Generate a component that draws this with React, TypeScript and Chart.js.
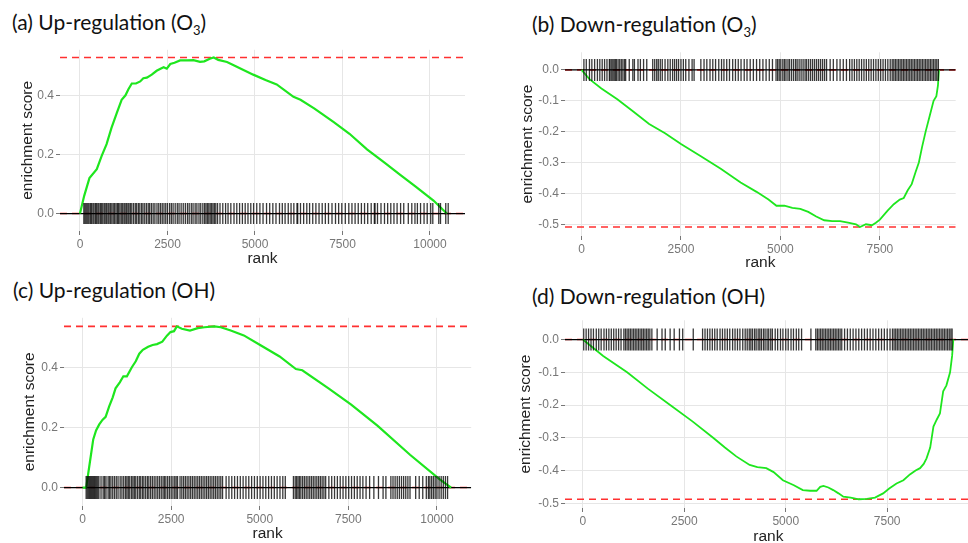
import React, { useEffect, useRef } from "react";
import { Chart, registerables } from "chart.js";

Chart.register(...registerables);

// ---------- data: running enrichment score curves ----------
const rankA = [0, 120, 270, 480, 620, 760, 900, 1050, 1190, 1300, 1380, 1480, 1600, 1720, 1810, 1910, 2050, 2190, 2300, 2390, 2480, 2580, 2700, 2860, 3050, 3240, 3430, 3550, 3710, 3820, 3950, 4200, 4480, 4950, 5300, 5620, 6100, 6300, 6700, 7240, 7700, 8200, 8700, 9150, 9600, 10100, 10480];
const esA = [0, 0.06, 0.12, 0.15, 0.195, 0.235, 0.29, 0.34, 0.385, 0.4, 0.42, 0.44, 0.44, 0.447, 0.458, 0.46, 0.47, 0.483, 0.49, 0.495, 0.49, 0.506, 0.51, 0.518, 0.518, 0.519, 0.513, 0.515, 0.524, 0.528, 0.52, 0.513, 0.497, 0.47, 0.452, 0.437, 0.395, 0.385, 0.355, 0.31, 0.27, 0.217, 0.172, 0.131, 0.09, 0.044, 0];

const rankB = [0, 200, 500, 900, 1300, 1700, 2100, 2500, 3000, 3500, 4000, 4400, 4700, 4900, 5100, 5300, 5500, 5700, 5900, 6100, 6300, 6500, 6700, 6900, 7000, 7150, 7300, 7400, 7500, 7700, 7850, 8000, 8100, 8200, 8300, 8400, 8480, 8560, 8650, 8750, 8850, 8920, 8960, 8985];
const esB = [0, -0.03, -0.06, -0.095, -0.135, -0.175, -0.205, -0.24, -0.28, -0.32, -0.365, -0.395, -0.42, -0.44, -0.44, -0.447, -0.45, -0.46, -0.475, -0.487, -0.49, -0.49, -0.495, -0.5, -0.509, -0.5, -0.503, -0.495, -0.485, -0.455, -0.435, -0.42, -0.415, -0.39, -0.37, -0.33, -0.3, -0.25, -0.2, -0.15, -0.1, -0.085, -0.05, 0];

const rankC = [0, 100, 200, 300, 380, 470, 560, 650, 750, 850, 930, 1050, 1150, 1250, 1390, 1500, 1600, 1700, 1850, 1975, 2100, 2250, 2380, 2480, 2580, 2660, 2800, 3030, 3250, 3440, 3720, 3900, 4180, 4550, 5010, 5560, 6020, 6200, 6940, 7580, 8320, 9240, 10070, 10400];
const esC = [0, 0, 0.08, 0.16, 0.19, 0.21, 0.225, 0.235, 0.27, 0.3, 0.33, 0.35, 0.37, 0.37, 0.4, 0.42, 0.445, 0.458, 0.468, 0.474, 0.477, 0.485, 0.505, 0.517, 0.52, 0.536, 0.528, 0.522, 0.53, 0.533, 0.536, 0.533, 0.522, 0.506, 0.474, 0.436, 0.394, 0.39, 0.33, 0.276, 0.206, 0.109, 0.028, 0];

const rankD = [0, 500, 1090, 1600, 2150, 2700, 3210, 3500, 3780, 4110, 4300, 4520, 4700, 4930, 5200, 5420, 5600, 5760, 5850, 5930, 6050, 6170, 6300, 6420, 6600, 6800, 7000, 7200, 7400, 7550, 7730, 7900, 8060, 8200, 8310, 8400, 8470, 8560, 8640, 8720, 8800, 8880, 8960, 9050, 9100, 9130];
const esD = [0, -0.05, -0.1, -0.15, -0.2, -0.25, -0.3, -0.33, -0.357, -0.383, -0.39, -0.393, -0.405, -0.43, -0.445, -0.46, -0.462, -0.462, -0.45, -0.447, -0.452, -0.46, -0.47, -0.48, -0.483, -0.488, -0.487, -0.483, -0.47, -0.455, -0.44, -0.43, -0.412, -0.4, -0.393, -0.38, -0.363, -0.33, -0.266, -0.245, -0.226, -0.158, -0.14, -0.1, -0.05, 0];

// ---------- data: gene-set hit positions (rug) ----------
const rugA = [110, 140, 170, 200, 230, 260, 300, 330, 370, 400, 440, 470, 510, 540, 580, 610, 650, 690, 720, 760, 800, 830, 870, 910, 950, 990,
  1030, 1070, 1100, 1140, 1180, 1220, 1260, 1290, 1330, 1370, 1400, 1440, 1480, 1530, 1580, 1620, 1670, 1710, 1760, 1800, 1850, 1900, 1950, 1990,
  2040, 2090, 2140, 2200, 2250, 2300, 2350, 2400, 2450, 2500, 2560, 2610, 2660, 2720, 2780, 2830, 2890, 2950,
  3010, 3070, 3120, 3180, 3230, 3290, 3340, 3400, 3450, 3510, 3560, 3600, 3640, 3680, 3720, 3760, 3800, 3840, 3880, 3930,
  4000, 4080, 4160, 4230, 4310, 4400, 4480, 4560, 4640, 4720, 4800, 4880, 4960,
  5050, 5140, 5230, 5330, 5420, 5510, 5600, 5700, 5780, 5860, 5950,
  6030, 6110, 6200, 6220, 6300, 6390, 6480, 6560, 6650, 6740, 6830, 6920,
  7010, 7100, 7200, 7300, 7390, 7480, 7580, 7680, 7770, 7860, 7950,
  8040, 8130, 8220, 8320, 8410, 8430, 8500, 8600, 8700, 8790, 8880, 8970,
  9060, 9160, 9250, 9380, 9480, 9570, 9640, 9730, 9830, 9920,
  10020, 10080, 10250, 10300, 10450, 10520];

const rugB = [60, 120, 200, 260, 330, 400, 460, 520, 580, 640, 700, 720, 760, 790, 820, 850, 880, 920, 960, 1000, 1040, 1080, 1110,
  1200, 1290, 1330, 1420, 1480, 1560, 1640,
  1790, 1840, 1890, 1930, 1980, 2030, 2100, 2170, 2230, 2290, 2340, 2390, 2440, 2500, 2560, 2620, 2700, 2780, 2830,
  3000, 3080, 3150, 3230, 3300, 3370, 3450, 3520, 3580, 3650, 3720, 3800, 3870, 3940, 4010, 4090, 4160, 4240, 4320, 4400, 4480, 4560, 4640, 4720, 4800,
  4890, 4930, 4970, 5010, 5060, 5100, 5140, 5190, 5230, 5280, 5330, 5380, 5420, 5470, 5520, 5570, 5620, 5660, 5710, 5760, 5810, 5860, 5910, 5960, 6010, 6060, 6110, 6160,
  6250, 6330, 6420, 6500, 6580, 6660, 6740, 6800,
  6860, 6920, 6980, 7040, 7100, 7160, 7220, 7280, 7340, 7400, 7460, 7520, 7580, 7640, 7700, 7760, 7810,
  7850, 7890, 7930, 7970, 8010, 8050, 8090, 8130, 8170, 8210, 8250, 8290, 8330, 8370, 8410, 8450, 8490, 8530, 8570, 8610, 8650, 8690, 8730, 8770, 8810, 8850, 8890, 8930, 8970];

const rugC = [100, 130, 160, 190, 220, 250, 280, 310, 340, 370, 400, 430, 460,
  520, 580, 620, 660, 720, 760, 800, 850, 900, 950, 1000, 1060, 1110, 1160,
  1210, 1250, 1290, 1330, 1380, 1420, 1460, 1500, 1550, 1600, 1640, 1690, 1730, 1780, 1830, 1870, 1920, 1970, 2020, 2070, 2120, 2170, 2220, 2270, 2310, 2350, 2400, 2450, 2500, 2550, 2600, 2640, 2680,
  2750, 2800, 2850, 2900, 2950, 3000, 3050, 3100, 3150, 3200, 3250, 3300, 3350, 3400, 3450, 3500, 3550, 3600, 3650, 3700, 3750, 3800, 3850, 3900, 3950,
  4050, 4130, 4210, 4290, 4370, 4450, 4530, 4610, 4690, 4770, 4850, 4930, 5010, 5090, 5170, 5250, 5330, 5410, 5490, 5570, 5650, 5720,
  5950, 6000, 6040, 6080, 6120, 6160, 6210, 6260, 6310, 6360, 6410, 6460, 6510, 6560, 6610, 6660, 6710, 6760, 6810, 6860,
  6950, 7030, 7110, 7190, 7270, 7350, 7430, 7510, 7590, 7670, 7750, 7830, 7910,
  8000, 8100, 8220, 8350, 8480, 8560,
  8700, 8760, 8820, 8880, 8940, 9000, 9060, 9120, 9180, 9240,
  9400, 9500, 9600, 9700, 9760, 9800, 9850, 9900, 9950, 10000, 10060, 10120, 10180, 10240, 10300];

const rugD = [20, 80, 140, 200, 260, 330, 390, 450, 520, 580, 640, 700, 760, 820, 880, 940,
  1010, 1050, 1090, 1130, 1170, 1210, 1250, 1290, 1330, 1370, 1410, 1450, 1490, 1530, 1570, 1610, 1650, 1700,
  1830, 1950, 2030, 2150, 2250, 2380, 2460,
  2720, 2950, 3010, 3070, 3130, 3190, 3250, 3310, 3380, 3440, 3500, 3560, 3620, 3690, 3750, 3810, 3870, 3940, 4000,
  4050, 4100, 4140, 4180, 4230, 4270, 4320, 4360, 4400, 4450, 4490, 4540, 4580, 4630, 4670,
  4740, 4800, 4870, 4930, 5000, 5060, 5130, 5190, 5260, 5320, 5390,
  5620, 5740, 5780, 5820, 5860, 5900, 5940, 5980, 6020, 6060, 6100, 6140, 6180, 6220, 6260, 6300, 6340, 6380,
  6450, 6520, 6590, 6660, 6730, 6800, 6870, 6940, 7010, 7080, 7150, 7220, 7290, 7360, 7430, 7500, 7570,
  7630, 7670, 7710, 7750, 7790, 7830, 7870, 7910, 7950, 7990, 8030, 8070, 8110, 8150, 8190, 8230, 8270, 8310, 8350, 8390, 8430, 8470, 8510, 8550, 8590, 8630, 8670, 8710, 8750, 8790, 8830, 8870, 8910, 8950, 8990, 9030, 9070, 9100];

// ---------- extreme enrichment scores (dashed red lines) ----------
const esExtremesA = [0.528, 0];
const esExtremesB = [0, -0.509];
const esExtremesC = [0.536, 0];
const esExtremesD = [0, -0.488];

// ---------- tick labels ----------
const xTicksUp = [0, 2500, 5000, 7500, 10000];
const xTicksDown = [0, 2500, 5000, 7500];
const yTicksUp = [0, 0.2, 0.4];
const yTicksDown = [0, -0.1, -0.2, -0.3, -0.4, -0.5];

const titleA = "(a) Up-regulation (O";
const titleB = "(b) Down-regulation (O";
const titleC = "(c) Up-regulation (OH)";
const titleD = "(d) Down-regulation (OH)";
const xTitle = "rank";
const yTitle = "enrichment score";

const AXIS_FONT = "'Liberation Sans', Arial, sans-serif";
const TITLE_FONT = "Lato, 'Open Sans', sans-serif";

type PanelProps = {
  left: number; top: number; width: number; height: number;
  ranks: number[]; es: number[]; rug: number[]; extremes: number[];
  xTicks: number[]; yTicks: number[];
  xMin: number; xMax: number; yMin: number; yMax: number;
  padTop: number; padRight: number; yWidth: number; xHeight: number;
  yTitlePad: number; xTitlePad: number; rugR: number; lineW: number;
};

function Panel(p: PanelProps) {
  const ref = useRef<HTMLCanvasElement | null>(null);
  useEffect(() => {
    if (!ref.current) return;
    const hline = (y: number) => [{ x: p.xMin, y }, { x: p.xMax, y }];
    const datasets: any[] = [
      {
        type: "scatter",
        data: p.rug.map((r) => ({ x: r, y: 0 })),
        pointStyle: "line",
        rotation: 90,
        pointRadius: p.rugR,
        pointHoverRadius: p.rugR,
        pointBorderColor: "rgba(0,0,0,0.78)",
        pointBackgroundColor: "rgba(0,0,0,0.78)",
        pointBorderWidth: 1.3,
      },
      {
        type: "line",
        data: p.ranks.map((r, i) => ({ x: r, y: p.es[i] })),
        borderColor: "#1ee61e",
        borderWidth: p.lineW,
        pointRadius: 0,
        tension: 0,
        fill: false,
      },
      {
        type: "line",
        data: hline(0),
        borderColor: "#000000",
        borderWidth: 1.2,
        pointRadius: 0,
        fill: false,
      },
      ...p.extremes.map((v) => ({
        type: "line",
        data: hline(v),
        borderColor: "#ff3030",
        borderWidth: 1.6,
        borderDash: [7, 5],
        pointRadius: 0,
        fill: false,
      })),
    ];
    const tickFont = { family: AXIS_FONT, size: 12 };
    const titleFont = { family: AXIS_FONT, size: 15.5 };
    const chart = new Chart(ref.current, {
      type: "scatter",
      data: { datasets },
      options: {
        animation: false,
        responsive: false,
        events: [],
        layout: { padding: { left: 0, top: p.padTop, right: p.padRight, bottom: 0 } },
        plugins: { legend: { display: false }, tooltip: { enabled: false } },
        scales: {
          x: {
            type: "linear",
            min: p.xMin,
            max: p.xMax,
            afterBuildTicks: (s: any) => { s.ticks = p.xTicks.map((v) => ({ value: v })); },
            afterFit: (s: any) => { s.height = p.xHeight; },
            border: { display: false },
            grid: { color: "#e6e6e6", lineWidth: 1, tickColor: "#777", tickLength: 4 },
            ticks: {
              color: "#777",
              font: tickFont,
              padding: 2,
              maxRotation: 0,
              autoSkip: false,
              callback: (v: any) => String(v),
            },
            title: { display: true, text: xTitle, color: "#222", font: titleFont, padding: { top: 0, bottom: p.xTitlePad } },
          },
          y: {
            type: "linear",
            min: p.yMin,
            max: p.yMax,
            afterBuildTicks: (s: any) => { s.ticks = p.yTicks.map((v) => ({ value: v })); },
            afterFit: (s: any) => { s.width = p.yWidth; },
            border: { display: false },
            grid: { color: "#e6e6e6", lineWidth: 1, tickColor: "#777", tickLength: 4 },
            ticks: {
              color: "#777",
              font: tickFont,
              padding: 2,
              callback: (v: any) => Number(v).toFixed(1),
            },
            title: { display: true, text: yTitle, color: "#222", font: titleFont, padding: { top: p.yTitlePad, bottom: 0 } },
          },
        },
      } as any,
    });
    return () => chart.destroy();
  }, []);
  return (
    <div style={{ position: "absolute", left: p.left, top: p.top, width: p.width, height: p.height }}>
      <canvas ref={ref} width={p.width} height={p.height} style={{ display: "block", width: p.width, height: p.height }} />
    </div>
  );
}

function Title({ left, cy, text, sub }: { left: number; cy: number; text: string; sub?: string }) {
  return (
    <div
      style={{
        position: "absolute",
        left,
        top: cy - 13,
        height: 26,
        lineHeight: "26px",
        fontFamily: TITLE_FONT,
        fontSize: 21,
        color: "#111",
        whiteSpace: "nowrap",
      }}
    >
      {text}
      {sub ? (
        <>
          <span style={{ fontSize: 13, position: "relative", top: 5 }}>{sub}</span>)
        </>
      ) : null}
    </div>
  );
}

export default function App() {
  return (
    <div style={{ position: "absolute", left: 0, top: 0, width: 968, height: 543, overflow: "hidden", background: "#fff" }}>
      <Title left={12} cy={22} text={titleA} sub="3" />
      <Title left={532} cy={24} text={titleB} sub="3" />
      <Title left={13} cy={290} text={titleC} />
      <Title left={532} cy={296} text={titleD} />
      <Panel left={0} top={38} width={484} height={232}
        ranks={rankA} es={esA} rug={rugA} extremes={esExtremesA}
        xTicks={xTicksUp} yTicks={yTicksUp}
        xMin={-571} xMax={11000} yMin={-0.059} yMax={0.554}
        padTop={6} padRight={19} yWidth={60} xHeight={39}
        yTitlePad={18.5} xTitlePad={2} rugR={10.5} lineW={2.2} />
      <Panel left={484} top={40} width={484} height={236}
        ranks={rankB} es={esB} rug={rugB} extremes={esExtremesB}
        xTicks={xTicksDown} yTicks={yTicksDown}
        xMin={-415} xMax={9406} yMin={-0.538} yMax={0.057}
        padTop={9} padRight={1} yWidth={81} xHeight={40}
        yTitlePad={34} xTitlePad={4} rugR={11} lineW={1.8} />
      <Panel left={0} top={305} width={484} height={238}
        ranks={rankC} es={esC} rug={rugC} extremes={esExtremesC}
        xTicks={xTicksUp} yTicks={yTicksUp}
        xMin={-525} xMax={10967} yMin={-0.0613} yMax={0.5645}
        padTop={7} padRight={4} yWidth={64} xHeight={37}
        yTitlePad={20} xTitlePad={0} rugR={11.5} lineW={2.2} />
      <Panel left={484} top={308} width={500} height={238}
        ranks={rankD} es={esD} rug={rugD} extremes={esExtremesD}
        xTicks={xTicksDown} yTicks={yTicksDown}
        xMin={-441} xMax={9583} yMin={-0.5147} yMax={0.0588}
        padTop={5} padRight={10} yWidth={81} xHeight={38}
        yTitlePad={32.5} xTitlePad={0} rugR={11} lineW={1.8} />
    </div>
  );
}
